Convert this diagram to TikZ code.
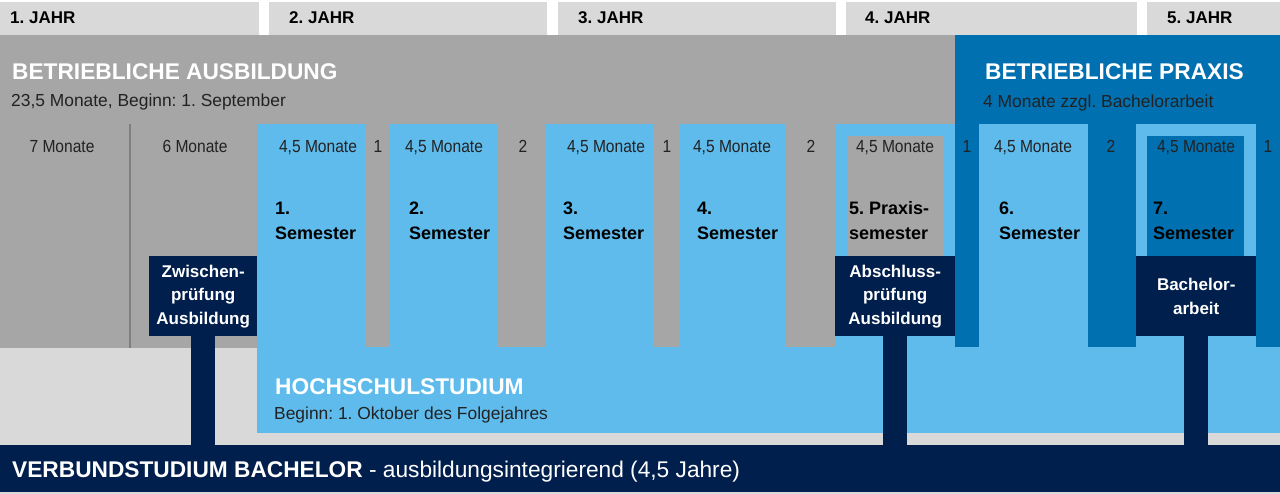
\documentclass[tikz,border=0pt]{standalone}
\usepackage{fontspec}
\setmainfont{Liberation Sans}
\newfontfamily\condfont[FakeStretch=0.89]{Liberation Sans}
\frenchspacing
\definecolor{hdrgray}{HTML}{D9D9D9}
\definecolor{midgray}{HTML}{A6A6A6}
\definecolor{divgray}{HTML}{7F7F7F}
\definecolor{ltblue}{HTML}{5EBBEC}
\definecolor{praxis}{HTML}{0070B0}
\definecolor{navy}{HTML}{001F4D}
\definecolor{darktext}{HTML}{222222}
\tikzset{
  hcell/.style={fill=hdrgray, draw=none, inner sep=0pt, anchor=north west, minimum height=33pt},
  txt/.style={inner sep=0pt, anchor=base west},
  hdr/.style={txt, font=\fontsize{17}{20}\selectfont\bfseries, text=black},
  title/.style={txt, font=\fontsize{22.7}{26}\selectfont\bfseries, text=white},
  sub/.style={txt, font=\fontsize{17.4}{20}\selectfont, text=darktext},
  month/.style={inner sep=0pt, anchor=base, font=\condfont\fontsize{17.5}{20}\selectfont, text=darktext},
  sem/.style={txt, font=\fontsize{18}{22}\selectfont\bfseries, text=black},
  exambox/.style={fill=navy, text=white, inner sep=0pt, anchor=north west, minimum height=80pt,
    align=center, font=\fontsize{17}{23.5}\selectfont\bfseries},
  stem/.style={draw=navy, line width=24pt},
}
\begin{document}
\begin{tikzpicture}[x=1pt,y=-1pt]
\useasboundingbox (0,0) rectangle (1280,494);
\fill[white] (0,0) rectangle (1280,494);
% header cells
\node[hcell, minimum width=259pt] (c1) at (0,2) {};
\node[hcell, minimum width=278pt] (c2) at (269,2) {};
\node[hcell, minimum width=278pt] (c3) at (558,2) {};
\node[hcell, minimum width=291pt] (c4) at (846,2) {};
\node[hcell, minimum width=133pt] (c5) at (1147,2) {};
\node[hdr] (h1) at (10,24) {1. JAHR};
\node[hdr] (h2) at (289,24) {2. JAHR};
\node[hdr] (h3) at (578,24) {3. JAHR};
\node[hdr] (h4) at (865,24) {4. JAHR};
\node[hdr] (h5) at (1167,24) {5. JAHR};
% main regions
\fill[midgray] (0,35) rectangle (955,348);
\fill[praxis] (955,35) rectangle (1280,348);
\fill[hdrgray] (0,348) rectangle (1280,445);
\fill[ltblue] (257,347.5) rectangle (1280,433);
\draw[divgray, line width=2pt] (130,124) -- (130,348);
% semester columns
\fill[ltblue] (257,124) rectangle (366,348);
\fill[ltblue] (390,124) rectangle (498,348);
\fill[ltblue] (546,124) rectangle (654,348);
\fill[ltblue] (679,124) rectangle (786,348);
\fill[ltblue] (835,124) rectangle (955,348);
\fill[midgray] (847,136) rectangle (943,257);
\fill[ltblue] (979,124) rectangle (1088,348);
\fill[ltblue] (1136,124) rectangle (1256,348);
\fill[praxis] (1147,136) rectangle (1244,257);
% titles
\node[title] (ta) at (12,79.5) {BETRIEBLICHE AUSBILDUNG};
\node[sub] (sa) at (11,107) {23,5 Monate, Beginn: 1. September};
\node[title] (tp) at (985,79.5) {BETRIEBLICHE PRAXIS};
\node[sub] (sp) at (983,108) {4 Monate zzgl. Bachelorarbeit};
% months
\node[month] (m1) at (62,153) {7 Monate};
\node[month] (m2) at (195,153) {6 Monate};
\node[month] (m3) at (318,153) {4,5 Monate};
\node[month] (g1) at (378,153) {1};
\node[month] (m4) at (444,153) {4,5 Monate};
\node[month] (g2) at (523,153) {2};
\node[month] (m5) at (606,153) {4,5 Monate};
\node[month] (g3) at (667,153) {1};
\node[month] (m6) at (732,153) {4,5 Monate};
\node[month] (g4) at (811,153) {2};
\node[month] (m7) at (895,153) {4,5 Monate};
\node[month] (g5) at (967,153) {1};
\node[month] (m8) at (1033,153) {4,5 Monate};
\node[month] (g6) at (1111,153) {2};
\node[month] (m9) at (1196,153) {4,5 Monate};
\node[month] (g7) at (1268,153) {1};
% semesters
\node[sem] (s1a) at (275,215) {1.};
\node[sem] (s1b) at (275,240) {Semester};
\node[sem] (s2a) at (409,215) {2.};
\node[sem] (s2b) at (409,240) {Semester};
\node[sem] (s3a) at (563,215) {3.};
\node[sem] (s3b) at (563,240) {Semester};
\node[sem] (s4a) at (697,215) {4.};
\node[sem] (s4b) at (697,240) {Semester};
\node[sem] (s5a) at (849,215) {5. Praxis-};
\node[sem] (s5b) at (849,240) {semester};
\node[sem] (s6a) at (999,215) {6.};
\node[sem] (s6b) at (999,240) {Semester};
\node[sem] (s7a) at (1153,215) {7.};
\node[sem] (s7b) at (1153,240) {Semester};
% Hochschulstudium
\node[title] (th) at (275,394) {HOCHSCHULSTUDIUM};
\node[sub] (sh) at (274,419) {Beginn: 1. Oktober des Folgejahres};
% bottom bar
\node[fill=navy, inner sep=0pt, minimum width=1280pt, minimum height=47pt, anchor=north west] (bar) at (0,445) {};
\fill[hdrgray] (0,492) rectangle (1280,494);
\node[txt, font=\fontsize{22.7}{26}\selectfont, text=white] (tb) at (12,477)
  {{\bfseries VERBUNDSTUDIUM BACHELOR} - ausbildungsintegrierend (4,5 Jahre)};
% exam boxes
\node[exambox, minimum width=108pt] (zw) at (149,256) {Zwischen-\\prüfung\\Ausbildung};
\node[exambox, minimum width=120pt] (ab) at (835,256) {Abschluss-\\prüfung\\Ausbildung};
\node[exambox, minimum width=120pt] (ba) at (1136,256) {Bachelor-\\arbeit};
% stems
\draw[stem] (zw.south) -- (zw.south |- bar.north);
\draw[stem] (ab.south) -- (ab.south |- bar.north);
\draw[stem] (ba.south) -- (ba.south |- bar.north);
\end{tikzpicture}
\end{document}
